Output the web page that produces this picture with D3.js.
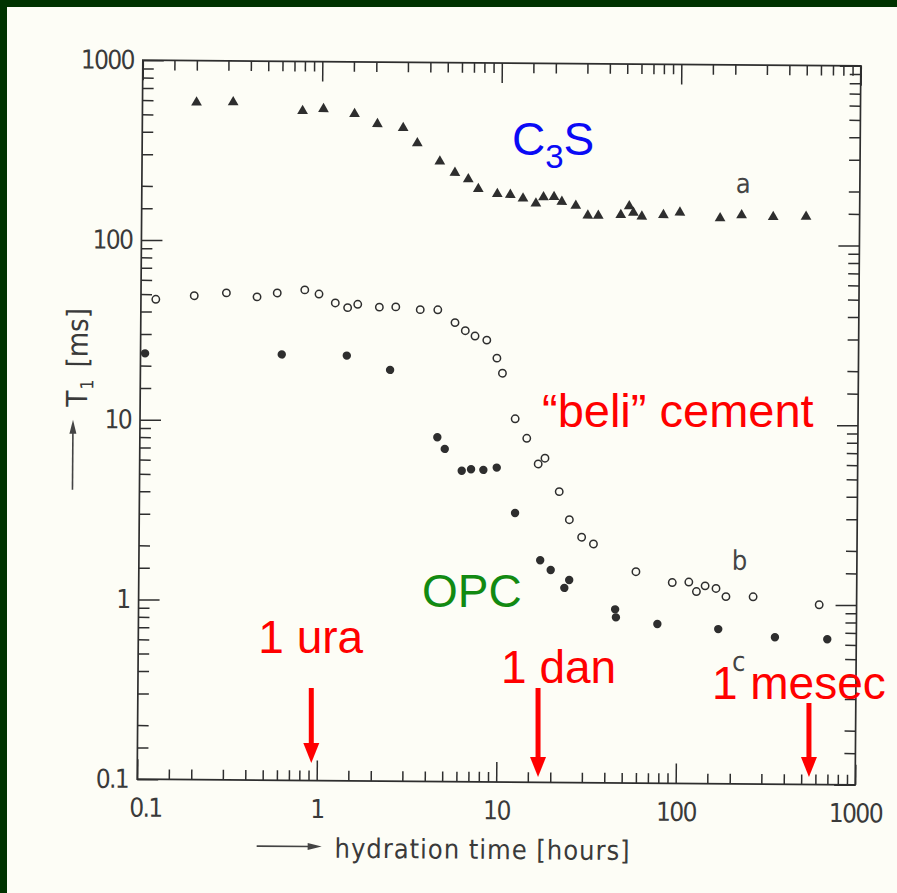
<!DOCTYPE html>
<html>
<head>
<meta charset="utf-8">
<script src="https://cdn.jsdelivr.net/npm/d3@7"></script>
<style>
  html, body { margin: 0; padding: 0; background: #fdfdf6; }
  svg { display: block; }
</style>
</head>
<body>
<svg id="chart" width="897" height="893"></svg>
<script>
// Spin-lattice relaxation time T1 of water in hydrating pastes (log–log)

// a: C3S (triangles)
const c3sHours = [0.2, 0.32, 0.78, 1.02, 1.52, 2.04, 2.84, 3.41, 4.56, 5.54, 6.58, 7.49, 9.56, 11.3, 13.3, 15.7,
                  17.3, 19.8, 21.9, 26.2, 30.6, 35.0, 46.7, 52.0, 54.9, 61.2, 80.7, 99.7, 167, 220, 330, 503];
const c3sT1 = [586, 589, 531, 545, 513, 452, 431, 355, 282, 244, 225, 199, 187, 185, 177, 166,
               180, 181, 170, 162, 143, 143, 144.5, 162, 149, 142, 145, 150, 140, 146, 143, 144];

// b: white cement (open circles)
const whiteHours = [0.121, 0.198, 0.299, 0.443, 0.574, 0.817, 0.981, 1.21, 1.418, 1.614, 2.13, 2.63, 3.60, 4.51,
                    5.63, 6.43, 7.29, 8.48, 9.67, 10.4, 12.3, 14.3, 16.6, 18.1, 21.8, 24.9, 29.2, 34.0,
                    58.8, 93.8, 116, 128, 143, 164.5, 187, 265, 619];
const whiteT1 = [46.8, 49.2, 51.2, 48.8, 51.4, 53.6, 50.9, 45.5, 42.9, 44.8, 43.3, 43.5, 42.1, 42.1,
                 35.8, 32.3, 30.2, 28.7, 22.8, 18.8, 10.5, 8.19, 5.90, 6.36, 4.15, 2.90, 2.32, 2.13,
                 1.50, 1.31, 1.32, 1.17, 1.26, 1.22, 1.10, 1.10, 1.00];

// c: OPC (filled circles)
const opcHours = [0.106, 0.612, 1.41, 2.46, 4.54, 5.00, 6.23, 7.02, 8.22, 9.76, 12.4, 17.2, 19.7, 25.0, 23.5,
                  45.2, 45.7, 77.8, 170, 352, 689];
const opcT1 = [23.4, 23.4, 23.2, 19.4, 8.22, 7.09, 5.37, 5.48, 5.44, 5.61, 3.14, 1.72, 1.52, 1.34, 1.21,
               0.924, 0.834, 0.769, 0.725, 0.657, 0.643];

// axes
const decades = [0.1, 1, 10, 100, 1000];
const xTickLabels = ["0.1", "1", "10", "100", "1000"];
const yTickLabels = ["0.1", "1", "10", "100", "1000"];
const minorSteps = [1.5, 2, 3, 4, 5, 6, 7, 8, 9];

// time markers (hours) with their captions
const markerHours = [0.9, 16.5, 533];
const markerLabels = ["1 ura", "1 dan", "1 mesec"];

const W = 897, H = 893;
const ink = "#2e2e2e";
const plotFont = "'Liberation Sans Narrow', 'DejaVu Sans Condensed', 'Liberation Sans', sans-serif";
const slideFont = "'Liberation Sans', Arial, sans-serif";

const svg = d3.select("#chart");
svg.append("rect").attr("width", W).attr("height", H).attr("fill", "#fdfdf6");
// slide frame
svg.append("rect").attr("x", 0).attr("y", 0).attr("width", W).attr("height", 7).attr("fill", "#003300");
svg.append("rect").attr("x", 0).attr("y", 0).attr("width", 7).attr("height", H).attr("fill", "#003300");

const pL = 140, pR = 858, pT = 63, pB = 782;
const x = d3.scaleLog().domain([0.1, 1000]).range([pL, pR]);
const y = d3.scaleLog().domain([0.1, 1000]).range([pB, pT]);

// the printed figure sits slightly askew on the page
const plot = svg.append("g")
  .attr("transform", `rotate(0.45 ${(pL + pR) / 2} ${(pT + pB) / 2})`);

const minors = d3.merge(decades.slice(0, 4).map(d => minorSteps.map(m => +(m * d).toPrecision(3))));

function styleAxis(g) {
  g.select(".domain").remove();
  g.selectAll(".tick line").attr("stroke", ink).attr("stroke-width", 1.5);
  g.selectAll(".tick text").attr("fill", "#3a3a3a").attr("font-family", plotFont)
    .attr("font-size", 26).attr("letter-spacing", -1.6);
}

// bottom
plot.append("g").attr("transform", `translate(0,${pB})`)
  .call(d3.axisBottom(x).tickValues(minors).tickSizeInner(-10).tickSizeOuter(0).tickFormat(""))
  .call(styleAxis);
plot.append("g").attr("transform", `translate(0,${pB})`)
  .call(d3.axisBottom(x).tickValues(decades).tickSizeInner(-20).tickSizeOuter(0).tickPadding(19)
    .tickFormat(d => xTickLabels[decades.indexOf(d)]))
  .call(styleAxis)
  .call(g => g.selectAll(".tick text").filter(d => d === 0.1).attr("x", 8));
// top
plot.append("g").attr("transform", `translate(0,${pT})`)
  .call(d3.axisTop(x).tickValues(minors).tickSizeInner(-10).tickSizeOuter(0).tickFormat(""))
  .call(styleAxis);
plot.append("g").attr("transform", `translate(0,${pT})`)
  .call(d3.axisTop(x).tickValues(decades).tickSizeInner(-20).tickSizeOuter(0).tickFormat(""))
  .call(styleAxis);
// left
plot.append("g").attr("transform", `translate(${pL},0)`)
  .call(d3.axisLeft(y).tickValues(minors).tickSizeInner(-11).tickSizeOuter(0).tickFormat(""))
  .call(styleAxis);
plot.append("g").attr("transform", `translate(${pL},0)`)
  .call(d3.axisLeft(y).tickValues(decades).tickSizeInner(-21).tickSizeOuter(0).tickPadding(9)
    .tickFormat(d => yTickLabels[decades.indexOf(d)]))
  .call(styleAxis);
// right
plot.append("g").attr("transform", `translate(${pR},0)`)
  .call(d3.axisRight(y).tickValues(minors).tickSizeInner(-11).tickSizeOuter(0).tickFormat(""))
  .call(styleAxis);
plot.append("g").attr("transform", `translate(${pR},0)`)
  .call(d3.axisRight(y).tickValues(decades).tickSizeInner(-21).tickSizeOuter(0).tickFormat(""))
  .call(styleAxis);

// frame
plot.append("rect")
  .attr("x", pL).attr("y", pT).attr("width", pR - pL).attr("height", pB - pT)
  .attr("fill", "none").attr("stroke", ink).attr("stroke-width", 1.7);

// axis titles with their leading arrows
const arrowHead = (x0, y0, dx, dy) => {
  // small filled arrowhead pointing along (dx, dy)
  const len = 14, half = 3.5;
  const px = -dy, py = dx;
  return `M${x0},${y0} L${x0 - dx * len + px * half},${y0 - dy * len + py * half} ` +
         `L${x0 - dx * len - px * half},${y0 - dy * len - py * half} Z`;
};
plot.append("line").attr("x1", 260).attr("y1", 848).attr("x2", 314).attr("y2", 848)
  .attr("stroke", "#444").attr("stroke-width", 1.6);
plot.append("path").attr("d", arrowHead(325, 848, 1, 0)).attr("fill", "#444");
plot.append("text")
  .attr("x", 338).attr("y", 859)
  .attr("font-family", plotFont).attr("font-size", 27).attr("fill", "#3a3a3a")
  .attr("textLength", 295).attr("lengthAdjust", "spacing")
  .text("hydration time [hours]");

plot.append("line").attr("x1", 73).attr("y1", 493).attr("x2", 73).attr("y2", 434)
  .attr("stroke", "#444").attr("stroke-width", 1.6);
plot.append("path").attr("d", arrowHead(73, 423, 0, -1)).attr("fill", "#444");
const yTitle = plot.append("text")
  .attr("transform", "translate(87,410) rotate(-90)")
  .attr("font-family", plotFont).attr("font-size", 29).attr("fill", "#3a3a3a");
yTitle.append("tspan").text("T");
yTitle.append("tspan").attr("font-size", 18).attr("dy", 6).attr("dx", 1).text("1");
yTitle.append("tspan").attr("dy", -6).attr("dx", 12).text("[ms]");

// series
const triangle = d3.symbol().type(d3.symbolTriangle).size(50);
plot.append("g").selectAll("path")
  .data(d3.zip(c3sHours, c3sT1))
  .join("path")
  .attr("transform", d => `translate(${x(d[0])},${y(d[1])})`)
  .attr("d", triangle)
  .attr("fill", ink);

plot.append("g").selectAll("circle")
  .data(d3.zip(whiteHours, whiteT1))
  .join("circle")
  .attr("cx", d => x(d[0])).attr("cy", d => y(d[1])).attr("r", 3.7)
  .attr("fill", "none").attr("stroke", ink).attr("stroke-width", 1.5);

plot.append("g").selectAll("circle")
  .data(d3.zip(opcHours, opcT1))
  .join("circle")
  .attr("cx", d => x(d[0])).attr("cy", d => y(d[1])).attr("r", 4.2)
  .attr("fill", ink);

// curve letters
[["a", 734, 191], ["b", 733, 568], ["c", 734, 669]].forEach(([t, tx, ty]) => {
  plot.append("text").attr("x", tx).attr("y", ty)
    .attr("font-family", plotFont).attr("font-size", 27).attr("fill", "#444").text(t);
});

// slide annotations
const ann = svg.append("g").attr("font-family", slideFont);
const c3s = ann.append("text").attr("x", 512).attr("y", 155).attr("font-size", 46).attr("fill", "#0a0af5");
c3s.append("tspan").text("C");
c3s.append("tspan").attr("font-size", 33).attr("dy", 13).text("3");
c3s.append("tspan").attr("dy", -13).text("S");

ann.append("text").attr("x", 542).attr("y", 427).attr("font-size", 47).attr("fill", "#ff0000")
  .text("\u201Cbeli\u201D cement");
ann.append("text").attr("x", 422).attr("y", 607).attr("font-size", 46).attr("fill", "#128a12")
  .text("OPC");

// time markers: caption offset and arrow extent for each marker
const markerLayout = [
  { dx: -53, base: 653, y0: 688, y1: 763 },
  { dx: -37, base: 683, y0: 688, y1: 777 },
  { dx: -97, base: 699, y0: 703, y1: 777 }
];
markerHours.forEach((h, i) => {
  const mx = x(h), L = markerLayout[i];
  ann.append("text").attr("x", mx + L.dx).attr("y", L.base)
    .attr("font-size", 46).attr("fill", "#ff0000").text(markerLabels[i]);
  ann.append("line").attr("x1", mx).attr("y1", L.y0).attr("x2", mx).attr("y2", L.y1 - 16)
    .attr("stroke", "#ff0000").attr("stroke-width", 5);
  ann.append("path")
    .attr("d", `M${mx},${L.y1} L${mx - 8},${L.y1 - 20} L${mx + 8},${L.y1 - 20} Z`)
    .attr("fill", "#ff0000");
});
</script>
</body>
</html>
